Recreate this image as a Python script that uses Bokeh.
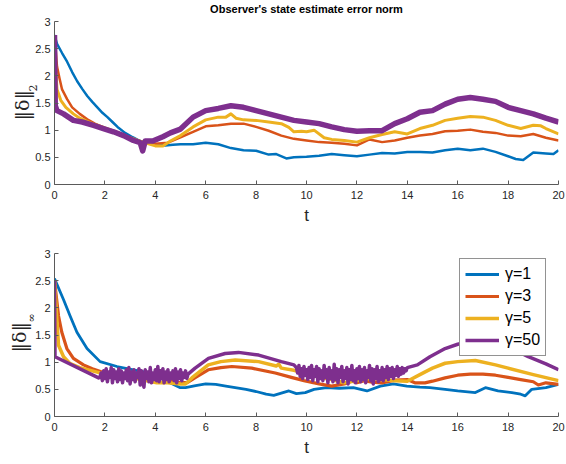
import numpy as np
from bokeh.plotting import figure
from bokeh.models import FixedTicker, Title
from bokeh.layouts import column
from bokeh.embed import file_html
from bokeh.resources import INLINE

title_text = "Observer's state estimate error norm"
x_ticks = [0, 2, 4, 6, 8, 10, 12, 14, 16, 18, 20]
x_tick_labels = ["0", "2", "4", "6", "8", "10", "12", "14", "16", "18", "20"]
y_ticks = [0, 0.5, 1, 1.5, 2, 2.5, 3]
y_tick_labels = ["0", "0.5", "1", "1.5", "2", "2.5", "3"]
series_labels = ["γ=1", "γ=3", "γ=5", "γ=50"]
colors = ["#0072BD", "#D95319", "#EDB120", "#7E2F8E"]

# ---------------- top panel: ||delta||_2 ----------------
t2_g1 = [0, 0.1, 0.3, 0.5, 0.7, 0.9, 1.1, 1.3, 1.5, 1.7, 1.9, 2.1, 2.3, 2.5, 2.8, 3.1, 3.4, 3.7, 4.0, 4.4,
         4.7, 5.0, 5.5, 6.0, 6.5, 7.0, 7.5, 8.0, 8.5, 8.8, 9.2, 9.5, 10, 10.5, 11, 11.5, 12, 12.5, 13, 13.5,
         14, 14.5, 15, 15.5, 16, 16.5, 17, 17.5, 18, 18.3, 18.6, 19, 19.5, 19.8, 20]
n2_g1 = [2.75, 2.59, 2.42, 2.26, 2.07, 1.90, 1.76, 1.63, 1.52, 1.42, 1.32, 1.24, 1.15, 1.06, 0.95, 0.87, 0.80, 0.76, 0.73, 0.72,
         0.73, 0.74, 0.74, 0.77, 0.74, 0.67, 0.63, 0.62, 0.55, 0.56, 0.48, 0.50, 0.51, 0.53, 0.56, 0.54, 0.52, 0.55, 0.58, 0.57,
         0.60, 0.60, 0.59, 0.63, 0.66, 0.63, 0.66, 0.60, 0.52, 0.47, 0.45, 0.59, 0.57, 0.56, 0.63]

t2_g3 = [0, 0.1, 0.2, 0.3, 0.5, 0.7, 1.0, 1.3, 1.6, 2.0, 2.5, 3.0, 3.5, 4.0, 4.5, 5.0, 5.5, 6.0, 6.5, 7.0,
         7.5, 8.0, 8.5, 9.0, 9.5, 10, 10.5, 11, 11.5, 12, 12.5, 13, 13.5, 14, 14.5, 15, 15.5, 16, 16.5, 17,
         17.5, 18, 18.5, 19, 19.5, 20]
n2_g3 = [2.75, 2.17, 1.95, 1.75, 1.57, 1.42, 1.30, 1.20, 1.12, 1.04, 0.96, 0.86, 0.78, 0.75, 0.77, 0.87, 0.97, 1.07, 1.09, 1.12,
         1.12, 1.06, 0.99, 0.90, 0.84, 0.81, 0.78, 0.77, 0.75, 0.72, 0.83, 0.78, 0.81, 0.86, 0.90, 0.93, 0.98, 0.99, 1.01, 0.97,
         0.95, 0.90, 0.89, 0.93, 0.86, 0.81]

t2_g5 = [0, 0.05, 0.1, 0.25, 0.45, 0.75, 1.0, 1.5, 2.0, 2.5, 3.0, 3.5, 4.0, 4.3, 4.6, 5.0, 5.5, 6.0, 6.5, 6.8,
         7.0, 7.2, 7.5, 8.0, 8.5, 9.0, 9.3, 9.5, 9.8, 10, 10.3, 10.7, 11, 11.5, 12, 12.5, 13, 13.5, 14, 14.5,
         15, 15.5, 16, 16.5, 17, 17.5, 18, 18.5, 19, 19.3, 19.5, 20]
n2_g5 = [2.75, 2.10, 1.75, 1.55, 1.42, 1.30, 1.22, 1.12, 1.04, 0.96, 0.86, 0.78, 0.71, 0.71, 0.80, 0.90, 1.06, 1.19, 1.24, 1.24,
         1.30, 1.22, 1.19, 1.18, 1.15, 1.12, 1.05, 0.97, 0.98, 0.97, 1.00, 0.86, 0.83, 0.81, 0.78, 0.86, 0.92, 0.97, 0.93, 1.03,
         1.09, 1.18, 1.22, 1.25, 1.24, 1.18, 1.09, 1.03, 1.09, 1.08, 1.03, 0.93]

t2_g50 = [0, 0.03, 0.1, 0.36, 0.75, 1.1, 1.55, 1.94, 2.34, 2.74, 3.13, 3.4, 3.5, 3.6, 3.9, 4.3, 4.6, 5.0, 5.5, 6.0,
          6.5, 7.0, 7.5, 8.0, 8.5, 9.0, 9.5, 10, 10.5, 11, 11.5, 12, 12.5, 13, 13.5, 14, 14.5, 15, 15.5, 16,
          16.5, 17, 17.5, 18, 18.5, 19, 19.5, 20]
n2_g50 = [2.75, 1.45, 1.36, 1.30, 1.18, 1.15, 1.09, 1.03, 0.97, 0.90, 0.81, 0.77, 0.62, 0.80, 0.80, 0.88, 0.95, 1.02, 1.24, 1.36,
          1.40, 1.45, 1.42, 1.36, 1.30, 1.24, 1.18, 1.15, 1.12, 1.06, 1.01, 0.98, 0.99, 0.99, 1.12, 1.21, 1.33, 1.36, 1.48, 1.57,
          1.60, 1.57, 1.53, 1.42, 1.36, 1.30, 1.22, 1.15]

# ---------------- bottom panel: ||delta||_inf ----------------
ti_g1 = [0, 0.36, 0.62, 0.89, 1.29, 1.81, 2.48, 3.13, 3.8, 4.46, 4.99, 5.2, 5.6, 6.0, 6.4, 6.8, 7.6, 8.0, 8.4, 8.7,
         9.0, 9.3, 9.6, 9.95, 10.3, 10.8, 11.3, 11.86, 12.4, 12.93, 13.45, 13.98, 14.5, 14.9, 15.5, 16.0, 16.7, 17.1, 17.6, 18.15,
         18.5, 18.68, 18.94, 19.5, 20]
ni_g1 = [2.54, 2.15, 1.85, 1.55, 1.25, 1.01, 0.92, 0.86, 0.80, 0.65, 0.53, 0.53, 0.57, 0.60, 0.59, 0.56, 0.50, 0.46, 0.41, 0.39,
         0.43, 0.47, 0.42, 0.44, 0.50, 0.53, 0.52, 0.53, 0.47, 0.56, 0.60, 0.56, 0.54, 0.53, 0.50, 0.47, 0.44, 0.53, 0.47, 0.44,
         0.41, 0.38, 0.50, 0.53, 0.59]

ti_g3 = [0, 0.16, 0.29, 0.49, 0.75, 1.15, 1.5, 2.0, 3.0, 4.0, 5.0, 5.3, 5.6, 6.1, 6.6, 7.04, 7.83, 8.76, 9.4, 9.9,
         10.5, 11.0, 11.5, 11.8, 12, 12.3, 12.6, 13, 13.5, 14, 14.3, 14.7, 15, 15.5, 16, 16.5, 17, 17.5, 18, 18.5,
         19, 19.2, 19.5, 20]
ni_g3 = [2.50, 1.85, 1.55, 1.25, 1.07, 0.95, 0.88, 0.80, 0.78, 0.72, 0.62, 0.63, 0.72, 0.86, 0.90, 0.92, 0.89, 0.80, 0.72, 0.66,
         0.60, 0.56, 0.60, 0.65, 0.62, 0.66, 0.63, 0.62, 0.67, 0.68, 0.62, 0.62, 0.65, 0.71, 0.76, 0.78, 0.78, 0.76, 0.72, 0.68,
         0.64, 0.58, 0.62, 0.59]

ti_g5 = [0, 0.08, 0.16, 0.36, 0.6, 1.0, 1.5, 2.0, 3.0, 4.06, 4.5, 5.0, 5.2, 5.45, 6.1, 6.6, 7.17, 8.1, 8.8, 8.9,
         9.0, 9.5, 9.9, 10.5, 11, 11.5, 12, 12.5, 13, 13.5, 14, 14.5, 15, 15.5, 16, 16.7, 17.5, 18, 19, 20]
ni_g5 = [2.50, 1.90, 1.31, 1.10, 0.98, 0.90, 0.84, 0.78, 0.72, 0.62, 0.62, 0.60, 0.60, 0.71, 0.95, 1.01, 1.04, 1.01, 0.93, 0.96,
         0.89, 0.85, 0.80, 0.72, 0.68, 0.62, 0.66, 0.70, 0.68, 0.66, 0.65, 0.77, 0.89, 0.98, 1.01, 1.03, 0.95, 0.89, 0.77, 0.66]

# gamma=50: smooth pieces and two noisy stretches (sampled every 0.05)
ti_g50_a = [0, 0.02, 1.75]
ni_g50_a = [2.50, 1.10, 0.71]
ni_g50_noise1 = [0.72, 0.80, 0.66, 0.84, 0.70, 0.88, 0.64, 0.82, 0.72, 0.90, 0.62, 0.86, 0.70, 0.82, 0.64, 0.88, 0.68, 0.84,
                 0.62, 0.80, 0.70, 0.86, 0.66, 0.90, 0.60, 0.82, 0.68, 0.86, 0.64, 0.80, 0.72, 0.88, 0.58, 0.84, 0.66, 0.54,
                 0.86, 0.70, 0.82, 0.64, 0.90, 0.62, 0.80, 0.68, 0.86, 0.66, 0.92, 0.64, 0.84, 0.70, 0.88, 0.62, 0.82, 0.68,
                 0.86, 0.64, 0.80, 0.70, 0.84, 0.66, 0.88, 0.62, 0.82, 0.70, 0.86, 0.66, 0.80, 0.72, 0.84, 0.70, 0.78]
ti_g50_b = [5.58, 6.11, 6.77, 7.3, 8.1, 9.0, 9.5]
ni_g50_b = [0.89, 1.07, 1.16, 1.18, 1.13, 1.01, 0.95]
ni_g50_noise2 = [0.90, 0.80, 0.94, 0.74, 0.88, 0.70, 0.92, 0.76, 0.86, 0.68, 0.90, 0.72, 0.94, 0.66, 0.86, 0.74, 0.92, 0.64,
                 0.88, 0.70, 0.84, 0.66, 0.94, 0.72, 0.86, 0.62, 0.90, 0.70, 0.84, 0.64, 0.96, 0.68, 0.88, 0.62, 0.86, 0.72,
                 0.92, 0.64, 0.84, 0.70, 0.90, 0.60, 0.86, 0.68, 0.94, 0.66, 0.84, 0.62, 0.88, 0.70, 0.92, 0.64, 0.86, 0.68,
                 0.90, 0.62, 0.84, 0.72, 0.94, 0.66, 0.88, 0.60, 0.86, 0.70, 0.92, 0.64, 0.84, 0.68, 0.90, 0.66, 0.86, 0.72,
                 0.92, 0.68, 0.88, 0.74, 0.90, 0.70, 0.86, 0.76, 0.92, 0.74, 0.88, 0.78, 0.90, 0.80, 0.88, 0.84, 0.90]
ti_g50_c = [14.4, 14.9, 15.5, 16.0, 16.5, 17.0, 17.5, 18.0, 18.5, 18.8, 19.5, 20]
ni_g50_c = [0.95, 1.10, 1.25, 1.33, 1.38, 1.40, 1.37, 1.28, 1.17, 1.10, 0.97, 0.86]

noise1_start, noise2_start, noise_step = 1.8, 9.6, 0.05
t_noise1 = list(noise1_start + noise_step * np.arange(len(ni_g50_noise1)))
t_noise2 = list(noise2_start + noise_step * np.arange(len(ni_g50_noise2)))
ti_g50 = ti_g50_a + t_noise1 + ti_g50_b + t_noise2 + ti_g50_c
ni_g50 = ni_g50_a + ni_g50_noise1 + ni_g50_b + ni_g50_noise2 + ni_g50_c

FONT = "Liberation Sans"
AX = "#262626"
W = 565


def make_fig(height, top_border, title=None):
    p = figure(width=W, height=height, x_range=(0, 20), y_range=(0, 3),
               output_backend="svg", toolbar_location=None, title_location=None,
               min_border_left=54, min_border_right=7, min_border_top=top_border,
               min_border_bottom=40, background_fill_color="white",
               border_fill_color="white")
    p.outline_line_color = None
    p.grid.visible = False
    p.xaxis.ticker = FixedTicker(ticks=x_ticks)
    p.yaxis.ticker = FixedTicker(ticks=y_ticks)
    p.xaxis.major_label_overrides = {k: v for k, v in zip(x_ticks, x_tick_labels)}
    p.yaxis.major_label_overrides = {k: v for k, v in zip(y_ticks, y_tick_labels)}
    for ax in (p.xaxis[0], p.yaxis[0]):
        ax.axis_line_color = "#5a5a5a"
        ax.major_tick_line_color = "#5a5a5a"
        ax.major_tick_in = 4
        ax.major_tick_out = 0
        ax.minor_tick_line_color = None
        ax.major_label_text_font = FONT
        ax.major_label_text_font_size = "11px"
        ax.major_label_text_color = AX
    p.xaxis.major_label_standoff = 6
    p.yaxis.major_label_standoff = 4
    p.xaxis.axis_label = "t"
    p.xaxis.axis_label_text_font = FONT
    p.xaxis.axis_label_text_font_size = "17px"
    p.xaxis.axis_label_text_font_style = "normal"
    p.xaxis.axis_label_text_color = AX
    p.xaxis.axis_label_standoff = 4
    if title is not None:
        # thin spacer next to the frame, then the bold title above it
        p.add_layout(Title(text=" ", text_font_size="4px", standoff=0), "above")
        p.add_layout(Title(text=title, align="center", text_font=FONT, text_font_size="11px",
                           text_font_style="bold", text_color="#000000", standoff=0), "above")
    return p


def add_ylabel(p, sub, main_offset, sub_offset):
    # subscript panel next to the axis, the norm symbol outside it (text reads upward)
    p.add_layout(Title(text=sub, align="left", offset=sub_offset, standoff=-12,
                       vertical_align="middle",
                       text_font="DejaVu Serif", text_font_size="11px",
                       text_font_style="normal", text_color=AX), "left")
    p.add_layout(Title(text="‖δ‖", align="left", offset=main_offset, standoff=0,
                       text_font="DejaVu Serif", text_font_size="19px",
                       text_font_style="normal", text_color=AX), "left")


p1 = make_fig(227, 21, title_text)
top_series = [(t2_g1, n2_g1, 2.5), (t2_g3, n2_g3, 2.5), (t2_g5, n2_g5, 3.0), (t2_g50, n2_g50, 5.5)]
for (tt, vv, lw), c in zip(top_series, colors):
    p1.line(tt, vv, line_color=c, line_width=lw, line_join="round")
add_ylabel(p1, "2", 64, 93)

p2 = make_fig(232, 26)
bot_series = [(ti_g1, ni_g1, 2.8), (ti_g3, ni_g3, 3.2), (ti_g5, ni_g5, 3.5), (ti_g50, ni_g50, 3.5)]
for (tt, vv, lw), c, lab in zip(bot_series, colors, series_labels):
    p2.line(tt, vv, line_color=c, line_width=lw, line_join="round", legend_label=lab)
add_ylabel(p2, "∞", 64, 94)

lg = p2.legend[0]
lg.location = (405, 60)
lg.margin = 0
lg.padding = 5
lg.spacing = 2
lg.glyph_width = 34
lg.glyph_height = 20
lg.label_height = 20
lg.label_standoff = 6
lg.label_text_font = FONT
lg.label_text_font_size = "16px"
lg.label_text_color = "#000000"
lg.border_line_color = "#262626"
lg.border_line_width = 1
lg.background_fill_alpha = 1.0

layout = column(p1, p2)
open("out.html", "w").write(file_html(layout, INLINE))
